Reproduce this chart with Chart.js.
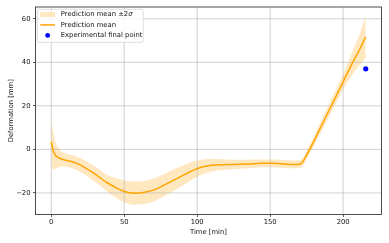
<!DOCTYPE html>
<html><head><meta charset="utf-8">
<script src="https://cdn.jsdelivr.net/npm/chart.js@4/dist/chart.umd.min.js"></script>
<style>html,body{margin:0;padding:0;background:#fff;overflow:hidden}canvas{display:block}</style>
</head><body>
<canvas id="c" width="389" height="243"></canvas>
<script>
// ---- data ----
const times = [0, 1.5, 3, 5, 7, 10, 15, 20, 27, 33, 38, 45, 50, 57, 63, 70, 76, 82, 88, 93, 98, 104, 110, 117, 125, 135, 145, 152, 160, 166, 170, 172, 175, 178, 181, 186, 193, 200, 207, 212, 215.5];
const meanValues = [3.5, -1.0, -2.8, -3.8, -4.4, -5.0, -5.8, -7.2, -10.0, -12.8, -15.2, -17.8, -19.3, -20.1, -19.8, -18.7, -16.9, -14.8, -12.7, -11.0, -9.4, -8.0, -7.3, -7.0, -6.9, -6.7, -6.4, -6.4, -6.7, -6.9, -6.8, -6.0, -2.6, 1.2, 5.2, 12.0, 21.5, 31.0, 40.5, 46.8, 51.7];
const upperValues = [13.5, 7.5, 3.2, 0.7, -0.9, -2.0, -2.8, -4.0, -6.6, -9.2, -11.6, -13.2, -14.3, -14.8, -14.5, -13.4, -11.8, -9.8, -8.0, -6.6, -5.5, -4.6, -4.4, -4.5, -4.7, -4.7, -4.6, -4.6, -4.9, -5.1, -5.0, -4.2, -0.7, 3.2, 7.4, 14.6, 24.5, 34.5, 46.0, 54.3, 61.3];
const lowerValues = [-6.5, -9.5, -8.8, -8.3, -7.9, -8.0, -8.8, -10.4, -13.4, -16.4, -19.2, -22.4, -24.3, -25.4, -25.1, -24.0, -22.0, -19.8, -17.4, -15.4, -13.3, -11.4, -10.2, -9.5, -9.1, -8.7, -8.2, -8.2, -8.5, -8.7, -8.6, -7.8, -4.5, -0.8, 3.0, 9.4, 18.5, 27.5, 35.0, 39.3, 42.1];
const experimentalTime = [215.5];
const experimentalValue = [37.0];
const xTicks = [0, 50, 100, 150, 200];
const yTicks = [-20, 0, 20, 40, 60];
const legendLabels = ['Prediction mean \u00b12', 'Prediction mean', 'Experimental final point'];
const xTitle = 'Time [min]';
const yTitle = 'Deformation [mm]';

// ---- styling ----
const FONT = 'DejaVu Sans';
const FS = 6.8;
const ORANGE = '#FFA500';
const BAND = 'rgba(255,165,0,0.25)';
const BLUE = '#0000FF';
const GRID = 'rgba(176,176,176,0.65)';
const TEXT = '#111';

Chart.defaults.font.family = FONT;
Chart.defaults.font.size = FS;
Chart.defaults.color = TEXT;

const toXY = ys => times.map((t, i) => ({x: t, y: ys[i]}));
const fmt = v => String(v).replace('-', '\u2212');

const gridPlugin = {
  id: 'gridAboveBand',
  afterDatasetDraw(chart, args) {
    if (args.index !== 0) return;
    const ctx = chart.ctx, a = chart.chartArea;
    ctx.save();
    ctx.strokeStyle = GRID; ctx.lineWidth = 0.9;
    ctx.beginPath();
    chart.scales.x.ticks.forEach(t => {
      const px = chart.scales.x.getPixelForValue(t.value);
      ctx.moveTo(px, a.top); ctx.lineTo(px, a.bottom);
    });
    chart.scales.y.ticks.forEach(t => {
      const py = chart.scales.y.getPixelForValue(t.value);
      ctx.moveTo(a.left, py); ctx.lineTo(a.right, py);
    });
    ctx.stroke();
    ctx.restore();
  }
};

const framePlugin = {
  id: 'frame',
  afterDatasetsDraw(chart) {
    const ctx = chart.ctx, a = chart.chartArea;
    ctx.save();
    ctx.strokeStyle = '#3a3a3a'; ctx.lineWidth = 0.9;
    ctx.strokeRect(a.left, a.top, a.right - a.left, a.bottom - a.top);
    ctx.restore();
  }
};

const legendPlugin = {
  id: 'mplLegend',
  afterDraw(chart) {
    const ctx = chart.ctx, a = chart.chartArea;
    const bx = a.left + 1.8, by = a.top + 2.3, bw = 106, bh = 33;
    ctx.save();
    ctx.beginPath();
    ctx.roundRect(bx, by, bw, bh, 2);
    ctx.fillStyle = 'rgba(255,255,255,0.8)'; ctx.fill();
    ctx.strokeStyle = '#d6d6d6'; ctx.lineWidth = 0.8; ctx.stroke();
    const rows = [by + 5.2, by + 15.6, by + 26.1];
    const hx0 = bx + 3, hx1 = bx + 17.7, tx = bx + 23.5;
    ctx.fillStyle = BAND;
    ctx.fillRect(hx0, rows[0] - 2.5, hx1 - hx0, 5);
    ctx.strokeStyle = ORANGE; ctx.lineWidth = 1.5;
    ctx.beginPath(); ctx.moveTo(hx0, rows[1]); ctx.lineTo(hx1, rows[1]); ctx.stroke();
    ctx.fillStyle = BLUE;
    ctx.beginPath(); ctx.arc((hx0 + hx1) / 2, rows[2], 2.4, 0, Math.PI * 2); ctx.fill();
    ctx.fillStyle = TEXT; ctx.textBaseline = 'middle'; ctx.textAlign = 'left';
    ctx.font = FS + 'px "' + FONT + '"';
    ctx.fillText(legendLabels[0], tx, rows[0]);
    const w0 = ctx.measureText(legendLabels[0]).width;
    ctx.font = 'italic ' + FS + 'px "' + FONT + '"';
    ctx.fillText('\u03c3', tx + w0, rows[0]);
    ctx.font = FS + 'px "' + FONT + '"';
    ctx.fillText(legendLabels[1], tx, rows[1]);
    ctx.fillText(legendLabels[2], tx, rows[2]);
    ctx.restore();
  }
};

const tickGrid = {drawOnChartArea: false, drawTicks: true, tickLength: 2.5, tickColor: '#333', tickWidth: 0.8};

new Chart(document.getElementById('c'), {
  type: 'line',
  data: {
    datasets: [
      {data: toXY(upperValues), borderWidth: 0, pointRadius: 0, fill: '+1', backgroundColor: BAND, borderColor: 'rgba(0,0,0,0)', cubicInterpolationMode: 'monotone', order: 3},
      {data: toXY(lowerValues), borderWidth: 0, pointRadius: 0, fill: false, borderColor: 'rgba(0,0,0,0)', cubicInterpolationMode: 'monotone', order: 3},
      {data: toXY(meanValues), borderWidth: 1.5, borderColor: ORANGE, pointRadius: 0, fill: false, cubicInterpolationMode: 'monotone', order: 1},
      {type: 'scatter', data: experimentalTime.map((t, i) => ({x: t, y: experimentalValue[i]})), pointRadius: 2.6, pointBackgroundColor: BLUE, pointBorderWidth: 0, showLine: false, order: 0}
    ]
  },
  options: {
    responsive: false, animation: false, devicePixelRatio: 1,
    layout: {padding: {top: 7, right: 7.5, left: 0, bottom: 0}},
    plugins: {legend: {display: false}, tooltip: {enabled: false}},
    scales: {
      x: {
        type: 'linear', min: -10.78, max: 226.3,
        afterBuildTicks: s => { s.ticks = xTicks.map(v => ({value: v})); },
        afterFit: s => { s.height = 28.5; },
        grid: tickGrid, border: {display: false},
        ticks: {padding: 1, maxRotation: 0, autoSkip: false, color: TEXT, callback: v => fmt(v)},
        title: {display: true, text: xTitle, color: TEXT, padding: {top: 0, bottom: 6.9}}
      },
      y: {
        type: 'linear', min: -29.9, max: 65.4,
        afterBuildTicks: s => { s.ticks = yTicks.map(v => ({value: v})); },
        afterFit: s => { s.width = 35.5; },
        grid: tickGrid, border: {display: false},
        ticks: {padding: 2.5, autoSkip: false, color: TEXT, callback: v => fmt(v)},
        title: {display: true, text: yTitle, color: TEXT, padding: {top: 7.4, bottom: 0}}
      }
    }
  },
  plugins: [gridPlugin, framePlugin, legendPlugin]
});
</script>
</body></html>
